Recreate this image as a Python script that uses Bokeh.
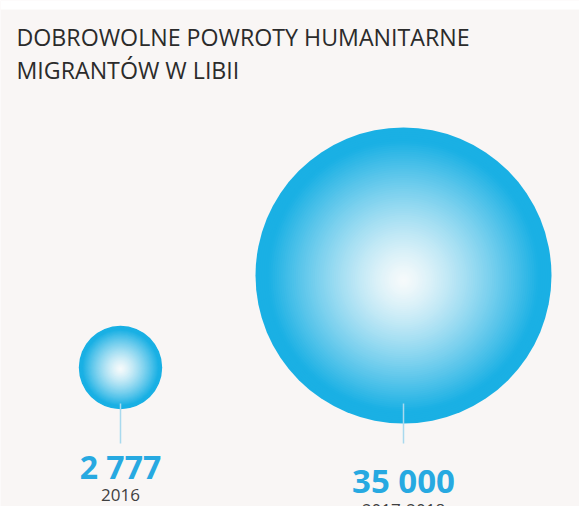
import numpy as np
from bokeh.plotting import figure
from bokeh.models import Range1d, ColumnDataSource, Label, BoxAnnotation
from bokeh.core.properties import value
from bokeh.embed import file_html
from bokeh.resources import INLINE

# ---- data ----
title_lines = ["DOBROWOLNE POWROTY HUMANITARNE", "MIGRANTÓW W LIBII"]
periods = ["2016", "2017-2018"]
returns = [2777, 35000]
value_labels = ["2 777", "35 000"]

# ---- layout / style ----
W, H = 579, 506
BG = "#f9f6f5"
cx = [120, 403]
cy = [367, 275]
stem_end = 443
num_base = [466, 480]
num_size = ["32px", "33px"]
year_base = [494, 509]
max_r = 148.0
k = max_r / np.sqrt(max(returns))
radii = [k * np.sqrt(v) for v in returns]

outer = np.array([26, 176, 228])
inner = np.array([246, 250, 251])

p = figure(width=W, height=H, x_range=Range1d(0, W), y_range=Range1d(H, 0),
           output_backend="svg", toolbar_location=None, min_border=0)
p.axis.visible = False
p.grid.visible = False
p.outline_line_color = None
p.background_fill_color = BG
p.border_fill_color = BG

# white strip at top
p.add_layout(BoxAnnotation(top=0, bottom=9, fill_color="white", fill_alpha=1.0,
                           line_color=None))

# radial gradient bubbles built from concentric rings
xs, ys, rs, cols = [], [], [], []
N = 70
for x0, y0, r in zip(cx, cy, radii):
    for i in range(N):
        t = 1.0 - i / N
        f = min(1.0, t / 0.92) ** 1.3
        c = inner + (outer - inner) * f
        xs.append(x0)
        ys.append(y0 + (1 - t) * 0.035 * r)
        rs.append(t * r)
        cols.append("#%02x%02x%02x" % tuple(int(round(v)) for v in c))
src = ColumnDataSource(dict(x=xs, y=ys, r=rs, c=cols))
p.circle(x="x", y="y", radius="r", fill_color="c", line_color=None, source=src)

# stems
for x0, y0, r in zip(cx, cy, radii):
    p.segment(x0=[x0], y0=[y0 + r - 20 * r / max_r], x1=[x0], y1=[stem_end],
              line_color="#a9d9ee", line_width=1.5)

# value labels
for x0, yb, t, fs in zip(cx, num_base, value_labels, num_size):
    p.text(x=[x0], y=[yb], text=[t], text_font=value("Open Sans"),
           text_font_style="bold", text_font_size=fs, text_color="#27a9e1",
           text_align="center", text_baseline="alphabetic")
p.text(x=cx, y=year_base, text=periods, text_font=value("Open Sans"),
       text_font_size="17px", text_color="#404040",
       text_align="center", text_baseline="alphabetic")

# title
for line, yb in zip(title_lines, [36, 69]):
    p.add_layout(Label(x=16, y=yb, text=line, text_font="Open Sans",
                       text_font_size="23.2px", text_color="#2b2b2b",
                       text_baseline="alphabetic"))

open("out.html", "w").write(file_html(p, INLINE))
